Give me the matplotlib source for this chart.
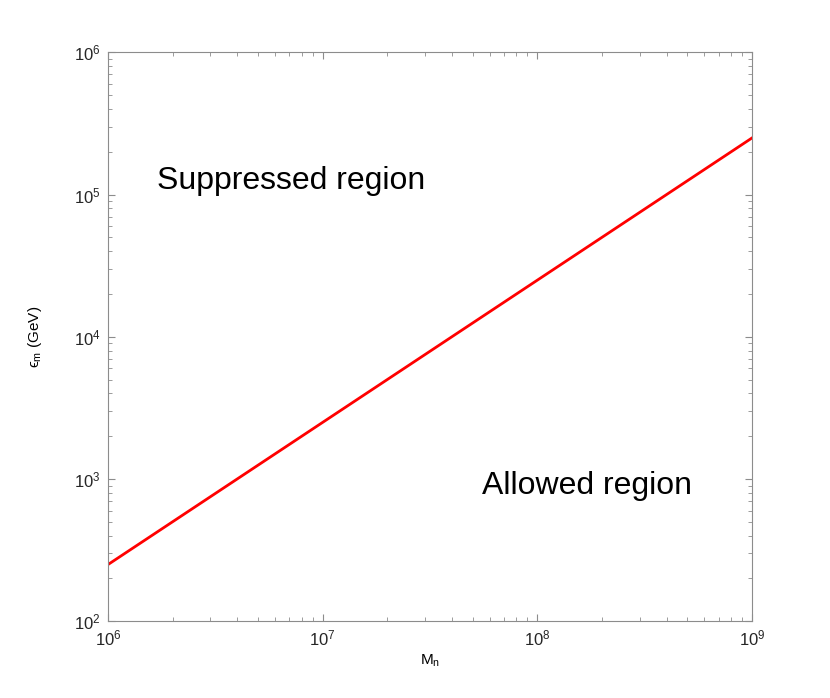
import matplotlib
matplotlib.use('Agg')
import matplotlib.pyplot as plt
import numpy as np

plt.rcParams['font.family'] = ['Liberation Sans', 'DejaVu Sans']
plt.rcParams['mathtext.fontset'] = 'custom'
plt.rcParams['mathtext.rm'] = 'Liberation Sans'
plt.rcParams['mathtext.it'] = 'Liberation Sans:italic'

# boundary line between regions
m_n = [1e6, 1e9]
eps_m = [250, 2.5e5]

region_labels = ['Suppressed region', 'Allowed region']
label_x = [1.7e6, 5.5e7]
label_y = [1.24e5, 900]

fig = plt.figure(figsize=(8.3, 6.98), dpi=100)
ax = fig.add_axes([0.13, 0.11, 0.776, 0.815])

ax.loglog(m_n, eps_m, color='red', linewidth=2)
ax.set_xlim(1e6, 1e9)
ax.set_ylim(1e2, 1e6)

for txt, x, y in zip(region_labels, label_x, label_y):
    ax.text(x, y, txt, fontsize=23, va='center', ha='left')

ax.set_xlabel('M$_\\mathrm{n}$', fontsize=11, labelpad=3)
ax.set_ylabel('\u03f5$_\\mathrm{m}$ (GeV)', fontsize=11, labelpad=22)

gray = '#8c8c8c'
for s in ax.spines.values():
    s.set_color(gray)
ax.tick_params(which='both', direction='in', top=True, right=True, colors=gray, labelcolor='#262626', labelsize=12)
ax.tick_params(which='major', length=5, pad=5)
ax.tick_params(which='minor', length=3)

fig.savefig('out.png', dpi=100)
